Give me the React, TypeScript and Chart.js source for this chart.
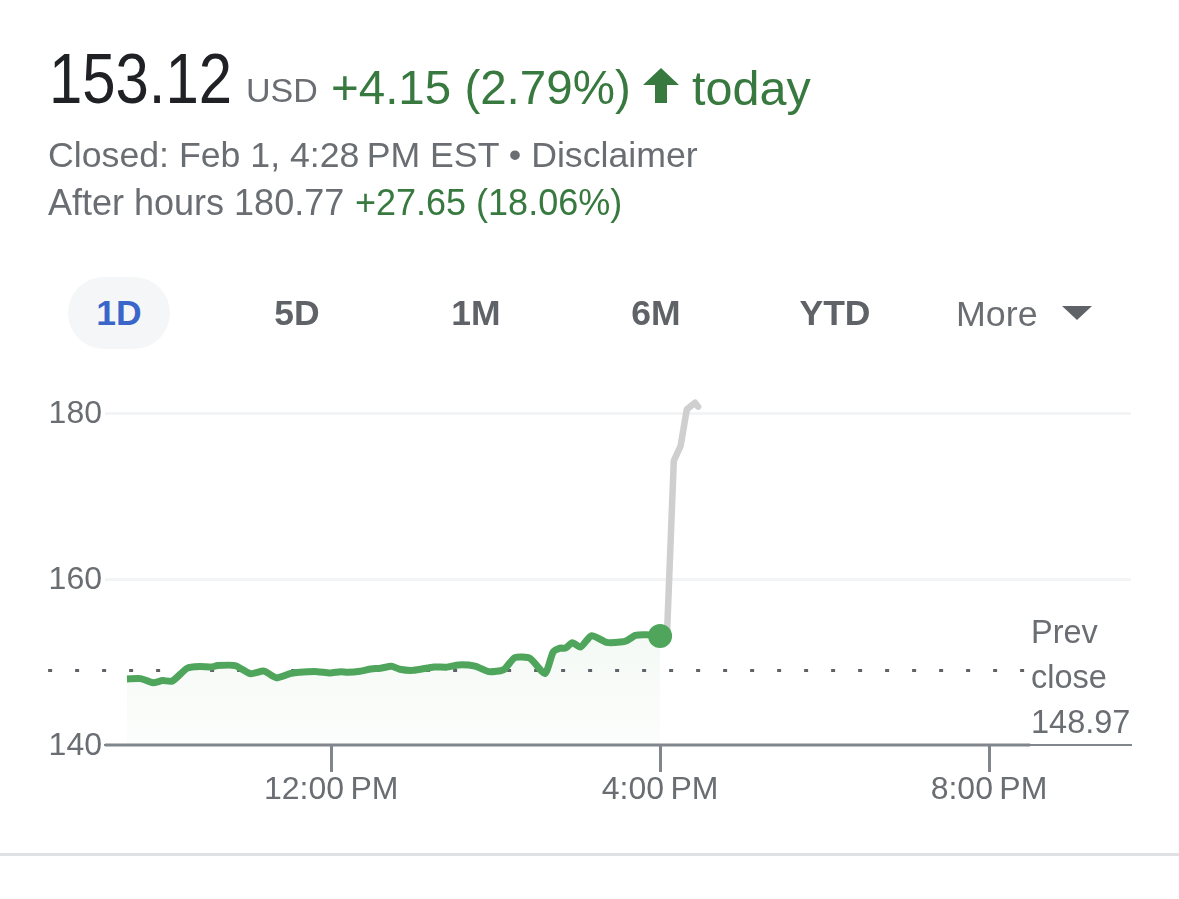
import { useEffect, useRef } from "react";
import Chart from "chart.js/auto";

const FONT = '"Liberation Sans", Arial, sans-serif';
const GRAY = "#6a6e73";
const GREEN_TEXT = "#37793f";

// minutes since midnight
const sessionMinutes = [
  571, 581, 590, 597, 604, 615, 624, 633, 637, 650, 661, 671, 680, 690, 697, 710, 719, 727, 732, 741, 749, 756, 764,
  770, 780, 795, 804, 813, 825, 835, 846, 854, 865, 876, 882, 887, 891, 896, 902, 910, 921, 931, 936, 942, 950, 960,
];
const sessionPrices = [
  147.96, 148.0, 147.5, 147.77, 147.69, 149.25, 149.45, 149.4, 149.57, 149.57, 148.6, 148.9, 148.1, 148.6, 148.77,
  148.84, 148.68, 148.84, 148.77, 148.89, 149.16, 149.25, 149.49, 149.13, 149.0, 149.4, 149.37, 149.65, 149.5, 148.84,
  149.09, 150.53, 150.45, 148.6, 151.2, 151.67, 151.67, 152.33, 151.8, 153.17, 152.37, 152.4, 152.6, 153.2, 153.27,
  153.12,
];
const afterMinutes = [960, 965, 970, 975, 979.5, 985.5, 987.7];
const afterPrices = [153.12, 153.12, 174.23, 176.04, 180.44, 181.24, 180.77];

const prevClose = 148.97;
const prevCloseMinutes = [513.5, 1228];
const axisMinutes = [555, 1230];
const timeTicks = [720, 960, 1200];
const timeLabels = ["12:00\u2009PM", "4:00\u2009PM", "8:00\u2009PM"];
const priceTicks = [140, 160, 180];

const tabs = [
  { label: "1D", center: 119 },
  { label: "5D", center: 297 },
  { label: "1M", center: 476 },
  { label: "6M", center: 656 },
  { label: "YTD", center: 835 },
];

function Label({ x, y, size, color, children, style }: any) {
  return (
    <span
      style={{
        position: "absolute",
        left: x,
        top: y,
        fontSize: size,
        lineHeight: "1",
        color,
        whiteSpace: "nowrap",
        transform: "translateY(-50%)",
        ...style,
      }}
    >
      {children}
    </span>
  );
}

const App = () => {
  const chartRef = useRef<HTMLCanvasElement>(null);

  useEffect(() => {
    if (!chartRef.current) return;
    const sessionPoints = sessionMinutes.map((x, i) => ({ x, y: sessionPrices[i] }));
    const chart = new Chart(chartRef.current, {
      type: "line",
      data: {
        // first dataset is painted last, so the session line sits on top and the fill underneath
        datasets: [
          {
            data: sessionPoints,
            borderColor: "#4fa55b",
            borderWidth: 7,
            borderJoinStyle: "round",
            tension: 0.2,
            pointRadius: (ctx: any) => (ctx.dataIndex === sessionMinutes.length - 1 ? 12 : 0),
            pointBackgroundColor: "#4fa55b",
            pointBorderWidth: 0,
            clip: false,
          },
          {
            data: afterMinutes.map((x, i) => ({ x, y: afterPrices[i] })),
            borderColor: "#cfcfcf",
            borderWidth: 6.5,
            borderJoinStyle: "round",
            borderCapStyle: "round",
            pointRadius: 0,
            clip: false,
          },
          {
            data: axisMinutes.map((x) => ({ x, y: 140 })),
            borderColor: "#80868b",
            borderWidth: 3,
            pointRadius: 0,
            clip: false,
          },
          {
            data: prevCloseMinutes.map((x) => ({ x, y: prevClose })),
            borderColor: "#5f6368",
            borderWidth: 3,
            borderDash: [4, 23],
            pointRadius: 0,
            clip: false,
          },
          {
            data: sessionPoints,
            borderWidth: 0,
            tension: 0.2,
            pointRadius: 0,
            fill: "start",
            backgroundColor: (ctx: any) => {
              const { ctx: c, chartArea } = ctx.chart;
              if (!chartArea) return "transparent";
              const g = c.createLinearGradient(0, 630, 0, chartArea.bottom);
              g.addColorStop(0, "#f4f9f5");
              g.addColorStop(1, "#fcfdfc");
              return g;
            },
          },
        ],
      },
      options: {
        animation: false,
        responsive: false,
        layout: { padding: { left: 0, top: 395, right: 48, bottom: 0 } },
        plugins: { legend: { display: false }, tooltip: { enabled: false } },
        scales: {
          x: {
            type: "linear",
            min: 555,
            max: 1303.6,
            afterFit: (s: any) => {
              s.height = 154;
            },
            afterBuildTicks: (s: any) => {
              s.ticks = timeTicks.map((value) => ({ value }));
            },
            grid: { drawOnChartArea: false, tickColor: "#80868b", tickWidth: 3, tickLength: 27 },
            border: { color: "#80868b", width: 2 },
            ticks: {
              autoSkip: false,
              maxRotation: 0,
              padding: -1,
              color: GRAY,
              font: { family: FONT, size: 32 },
              callback: (_v: any, i: number) => timeLabels[i],
            },
          },
          y: {
            min: 140,
            max: 182.17,
            afterFit: (s: any) => {
              s.width = 105;
            },
            afterBuildTicks: (s: any) => {
              s.ticks = priceTicks.map((value) => ({ value }));
            },
            border: { display: false },
            grid: {
              drawTicks: false,
              lineWidth: 3,
              color: (ctx: any) => (ctx.tick.value === 140 ? "transparent" : "#f3f4f5"),
            },
            ticks: { padding: 3, labelOffset: 1, color: GRAY, font: { family: FONT, size: 32 } },
          },
        },
      },
    });
    return () => chart.destroy();
  }, []);

  return (
    <div
      style={{
        position: "absolute",
        left: 0,
        top: 0,
        width: 1179,
        height: 899,
        overflow: "hidden",
        background: "#fff",
        fontFamily: FONT,
      }}
    >
      <canvas ref={chartRef} width={1179} height={899} style={{ position: "absolute", left: 0, top: 0 }} />

      <Label
        x={49}
        y={79}
        size={70}
        color="#202124"
        style={{ transform: "translateY(-50%) scaleX(0.855)", transformOrigin: "left center" }}
      >
        153.12
      </Label>
      <Label x={246} y={90} size={34} color={GRAY}>
        USD
      </Label>
      <Label x={331} y={88} size={47.5} color={GREEN_TEXT}>
        +4.15 (2.79%)
      </Label>
      <svg width="36" height="36" style={{ position: "absolute", left: 643, top: 68 }}>
        <polygon points="18,0 36,17 24,17 24,35 12,35 12,17 0,17" fill={GREEN_TEXT} />
      </svg>
      <Label x={692} y={88} size={48.5} color={GREEN_TEXT}>
        today
      </Label>

      <Label x={48} y={155.5} size={35.7} color={GRAY}>
        Closed: Feb 1, 4:28{"\u2009"}PM EST • Disclaimer
      </Label>
      <Label x={48} y={203} size={36} color={GRAY}>
        After hours 180.77
      </Label>
      <Label x={355} y={203} size={36} color={GREEN_TEXT}>
        +27.65 (18.06%)
      </Label>

      <div
        style={{
          position: "absolute",
          left: 68,
          top: 277,
          width: 102,
          height: 72,
          borderRadius: 36,
          background: "#f5f6f7",
        }}
      />
      {tabs.map((t, i) => (
        <Label
          key={t.label}
          x={t.center}
          y={314}
          size={35.5}
          color={i === 0 ? "#3b66c9" : "#5f6368"}
          style={{ fontWeight: 700, transform: "translate(-50%, -50%)" }}
        >
          {t.label}
        </Label>
      ))}
      <Label x={956} y={315} size={35.8} color={GRAY}>
        More
      </Label>
      <svg width="30" height="14" style={{ position: "absolute", left: 1062, top: 306 }}>
        <polygon points="0,0 30,0 15,14" fill="#5f6368" />
      </svg>

      <Label x={1031} y={632} size={32.5} color={GRAY}>
        Prev
      </Label>
      <Label x={1031} y={677} size={32.5} color={GRAY}>
        close
      </Label>
      <Label x={1031} y={722} size={32.5} color={GRAY}>
        148.97
      </Label>

      <div style={{ position: "absolute", left: 0, top: 853, width: 1179, height: 3, background: "#dfe1e4" }} />
    </div>
  );
};

export default App;
